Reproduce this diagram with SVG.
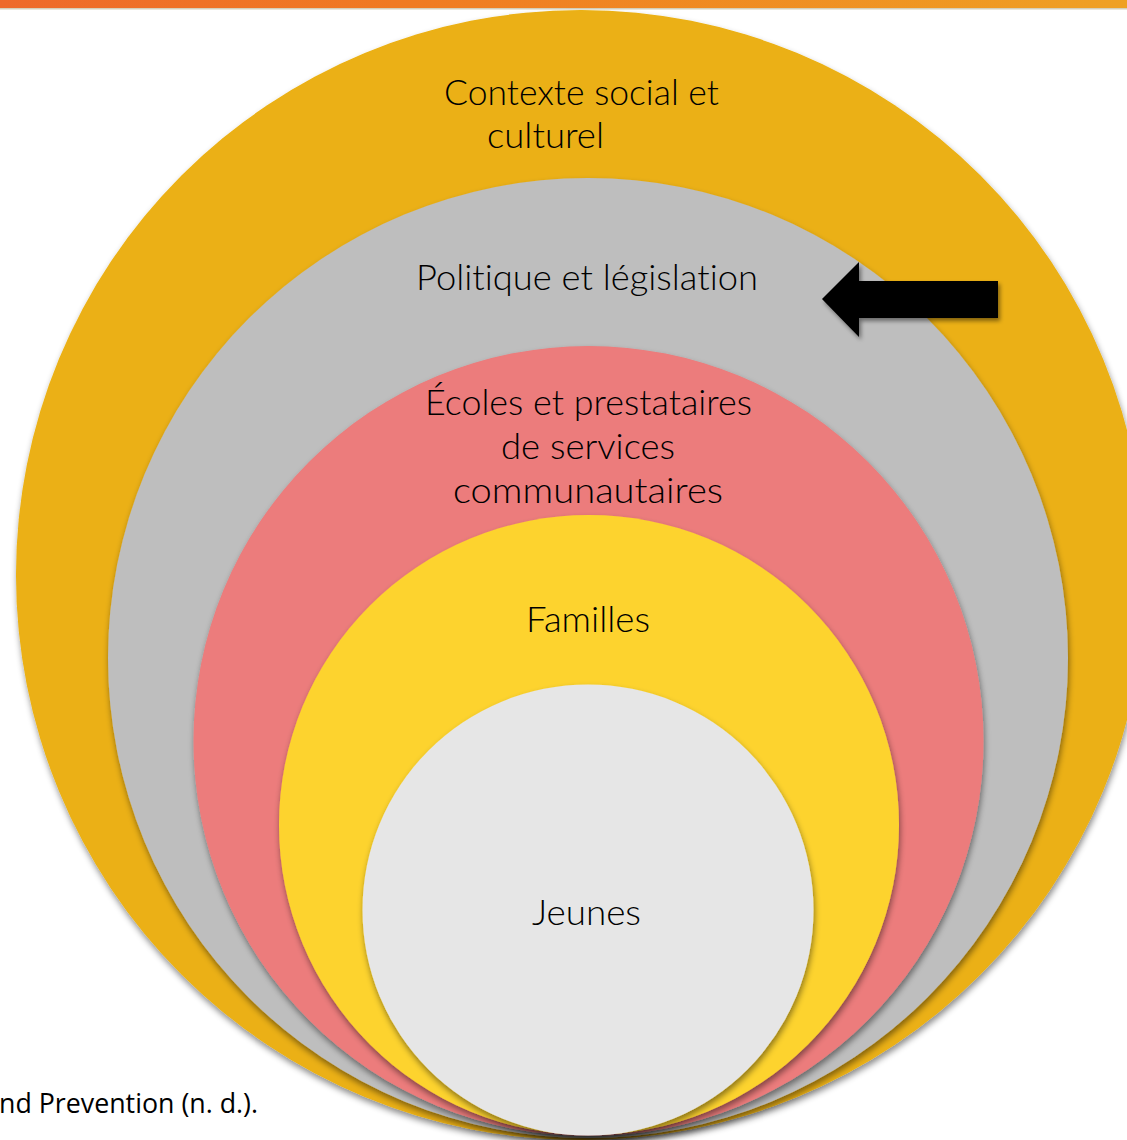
<svg xmlns="http://www.w3.org/2000/svg" width="1127" height="1140" viewBox="0 0 1127 1140">
  <defs>
    <linearGradient id="bar" x1="0" y1="0" x2="1" y2="0">
      <stop offset="0" stop-color="#EE6A2A"/>
      <stop offset="0.35" stop-color="#F07A22"/>
      <stop offset="1" stop-color="#EFA123"/>
    </linearGradient>
    <filter id="sh" x="-10%" y="-10%" width="120%" height="120%">
      <feDropShadow dx="1" dy="4" stdDeviation="3" flood-color="#000" flood-opacity="0.45"/>
    </filter>
    <filter id="ash" x="-10%" y="-20%" width="130%" height="150%">
      <feDropShadow dx="2" dy="3" stdDeviation="2" flood-color="#000" flood-opacity="0.45"/>
    </filter>
  </defs>
  <style>
    .lbl { font-family: Lato, Roboto, "Open Sans", "Liberation Sans", sans-serif; font-weight: 300; font-size: 35px; fill: #000; font-variant-ligatures: none; font-feature-settings: "liga" 0, "clig" 0; }
    .src { font-family: "Open Sans", "Liberation Sans", sans-serif; font-size: 28px; fill: #000; }
    .c { filter: url(#sh); }
  </style>
  <rect width="1127" height="1140" fill="#FFFFFF"/>

  <g id="contexte">
    <ellipse class="c" cx="581" cy="575" rx="565" ry="565" fill="#EBB012"/>
    <text class="lbl" x="444" y="105" textLength="275" lengthAdjust="spacingAndGlyphs">Contexte social et</text>
    <text class="lbl" x="487" y="148" textLength="117" lengthAdjust="spacingAndGlyphs">culturel</text>
  </g>
  <g id="politique">
    <circle class="c" cx="588" cy="658" r="480" fill="#BEBEBE"/>
    <text class="lbl" x="416" y="290" textLength="342" lengthAdjust="spacingAndGlyphs">Politique et législation</text>
  </g>
  <g id="ecoles">
    <circle class="c" cx="588.5" cy="741" r="395" fill="#EC7B7B"/>
    <text class="lbl" x="425" y="415" textLength="327" lengthAdjust="spacingAndGlyphs">Écoles et prestataires</text>
    <text class="lbl" x="501" y="459" textLength="174" lengthAdjust="spacingAndGlyphs">de services</text>
    <text class="lbl" x="453" y="503" textLength="270" lengthAdjust="spacingAndGlyphs">communautaires</text>
  </g>
  <g id="familles">
    <circle class="c" cx="589" cy="825" r="310" fill="#FDD32F"/>
    <text class="lbl" x="526" y="632" textLength="124" lengthAdjust="spacingAndGlyphs">Familles</text>
  </g>
  <g id="jeunes">
    <circle class="c" cx="588" cy="910" r="225.5" fill="#E6E6E6"/>
    <text class="lbl" x="532" y="925" textLength="109" lengthAdjust="spacingAndGlyphs">Jeunes</text>
  </g>

  <g id="connectors">
    <polygon filter="url(#ash)" points="822,299 859,262 859,281 998,281 998,318 859,318 859,337" fill="#000"/>
  </g>

  <g id="source">
    <text class="src" x="-1" y="1113" textLength="259" lengthAdjust="spacingAndGlyphs">nd Prevention (n. d.).</text>
  </g>

  <g id="topbar">
    <rect x="0" y="0" width="1127" height="8" fill="url(#bar)"/>
    <rect x="0" y="8" width="1127" height="1.5" fill="#C9C3A8" opacity="0.8"/>
  </g>
</svg>
